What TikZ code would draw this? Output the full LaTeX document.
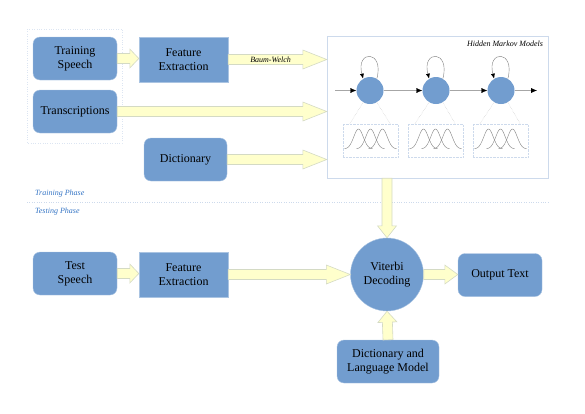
\documentclass[tikz,border=0pt]{standalone}
\usepackage{fontspec}
\setmainfont{Liberation Serif}
\usetikzlibrary{calc,arrows.meta}

\definecolor{boxblue}{RGB}{114,157,207}
\definecolor{arrowfill}{RGB}{255,255,204}
\definecolor{arrowline}{RGB}{212,218,196}
\definecolor{frameline}{RGB}{205,218,236}
\definecolor{phaseblue}{RGB}{52,116,196}

\tikzset{
  boxtext/.style={font=\fontsize{12}{14}\selectfont, align=center},
  rbox/.style={boxtext, draw=boxblue!60!white, fill=boxblue, rounded corners=7pt,
    minimum width=84pt, minimum height=43pt},
  sbox/.style={boxtext, draw=boxblue!60!white, fill=boxblue,
    minimum width=89pt, minimum height=45pt},
  fatarr/.style={draw=arrowline, fill=arrowfill, line width=0.6pt},
  state/.style={circle, fill=boxblue, minimum size=27pt, inner sep=0pt},
  gbox/.style={draw=frameline, densely dotted, minimum width=55pt, minimum height=33pt},
  chain/.style={gray!70, -{Latex[length=6pt,width=5pt,color=black]}},
  small/.style={font=\fontsize{8}{9}\selectfont\itshape, inner sep=0pt},
  phase/.style={small, text=phaseblue, anchor=west},
}

% fat yellow arrow from #2 to #3, head length #1
\newcommand\fatarrow[3][24]{%
  \draw[fatarr] let \p1=(#2), \p2=(#3), \n1={atan2(\y2-\y1,\x2-\x1)},
      \n2={veclen(\x2-\x1,\y2-\y1)} in
    [shift={(\p1)}, rotate=\n1] (0pt,-5pt) -- ({(\n2-#1)*1pt},-5pt)
    -- ({(\n2-#1)*1pt},-9.5pt) -- ({\n2*1pt},0pt) -- ({(\n2-#1)*1pt},9.5pt)
    -- ({(\n2-#1)*1pt},5pt) -- (0pt,5pt) -- cycle;}

\begin{document}
\begin{tikzpicture}[x=1pt, y=-1pt]
  \useasboundingbox (0,0) rectangle (585,413);

  % training phase
  \draw[frameline!70!white, dotted] (27,29) rectangle (122,143);
  \node[rbox] (ts) at (75,58.5) {Training\\Speech};
  \node[sbox] (fe1) at (183.5,59.5) {Feature\\Extraction};
  \node[rbox] (tr) at (75,111.5) {Transcriptions};
  \node[rbox, minimum width=83pt] (dict) at (185.5,159.5) {Dictionary};
  \node[draw=frameline, minimum width=221pt, minimum height=142pt] (hmm) at (437.5,107) {};
  \node[small, anchor=north east] (hmmlbl) at ([xshift=-5pt,yshift=-5pt]hmm.north east) {Hidden Markov Models};

  % hmm states
  \node[state] (s1) at (370,90.5) {};
  \node[state] (s2) at (436,90.5) {};
  \node[state] (s3) at (501,90.5) {};
  \coordinate (hin) at (335,90.5);
  \coordinate (hout) at (537,90.5);
  \draw[chain] (hin) -- (s1);
  \draw[chain] (s1) -- (s2);
  \draw[chain] (s2) -- (s3);
  \draw[chain] (s3) -- (hout);
  \node[gbox] (g1) at (370.5,140.5) {};
  \node[gbox] (g2) at (435.5,140.5) {};
  \node[gbox] (g3) at (500.5,140.5) {};
  \foreach \s/\g in {s1/g1,s2/g2,s3/g3}{
    \draw[gray, -{Latex[length=5pt,width=4pt,color=black]}] (\s.60) .. controls +(75:30pt) and +(105:30pt) .. (\s.120);
    \draw[gray!50, densely dotted] (\s.240) -- ([xshift=7pt]\g.north west);
    \draw[gray!50, densely dotted] (\s.300) -- ([xshift=-8pt]\g.north east);
    \foreach \m in {-12,0,12}
      \draw[gray, thin, shift={(\g.center)}, domain=-14:14, samples=30, smooth]
        plot ({\x+\m}, {8.5-20*exp(-(\x*\x)/45)});
  }

  \fatarrow[9]{ts.east}{ts.east -| fe1.west}
  \fatarrow{fe1.east}{fe1.east -| hmm.west}
  \node[small] (bw) at ($(fe1.east)!0.43!(fe1.east -| hmm.west)$) {Baum-Welch};
  \fatarrow{tr.east}{tr.east -| hmm.west}
  \fatarrow{dict.east}{dict.east -| hmm.west}

  % phases
  \node[phase] (trainlbl) at (35,194) {Training Phase};
  \draw[frameline, dotted] (27,202) -- (550,202);
  \node[phase] (testlbl) at (35,212) {Testing Phase};

  % testing phase
  \node[rbox] (tst) at (75,273.5) {Test\\Speech};
  \node[sbox] (fe2) at (183.5,274.5) {Feature\\Extraction};
  \node[circle, fill=boxblue, draw=boxblue!60!white, minimum size=73pt, boxtext] (vit) at (387,274.5) {Viterbi\\Decoding};
  \node[rbox] (out) at (500,275) {Output Text};
  \node[rbox, minimum width=102pt] (dlm) at (388,361.5) {Dictionary and\\Language Model};

  \fatarrow[12]{vit.north |- hmm.south}{vit.north}
  \fatarrow[9]{tst.east}{tst.east -| fe2.west}
  \fatarrow{fe2.east}{fe2.east -| vit.west}
  \fatarrow[13]{vit.east}{vit.east -| out.west}
  \fatarrow[11]{dlm.north}{vit.south}
\end{tikzpicture}
\end{document}
